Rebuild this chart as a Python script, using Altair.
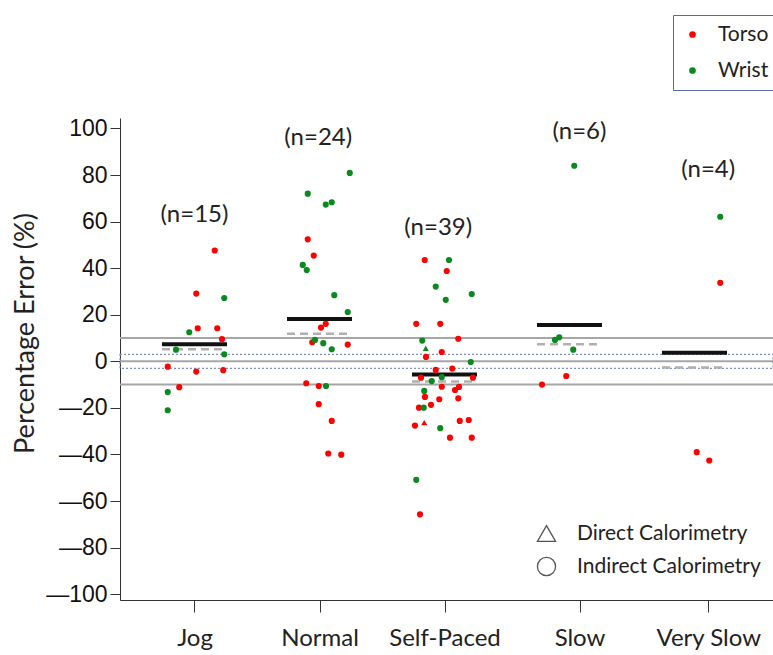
import altair as alt
import pandas as pd

# ---------------- data ----------------
categories = ["Jog", "Normal", "Self-Paced", "Slow", "Very Slow"]
group_pos = [1, 2, 3, 4, 5]
label_pos = [1.0, 2.0, 3.0, 4.08, 5.11]
n_text = ["(n=15)", "(n=24)", "(n=39)", "(n=6)", "(n=4)"]
n_text_pos = [1.0, 1.99, 2.95, 4.08, 5.11]
n_text_y = [62.9, 95.9, 57.3, 98.4, 82.2]
mean_err = [7.3, 18.2, -5.7, 15.6, 3.7]
median_err = [5.2, 11.8, -8.7, 7.3, -2.7]
ref_levels = [-10, 0, 10]
band_low, band_high = -3, 3

jog_err = [47.6, 29.1, 27.2, 12.5, 14.2, 14.2, 9.5, 5.0, 3.0, -2.3, -4.4, -3.8, -13.2, -11.1, -21.0]
jog_sensor = "TTWWTTTWWTTTWTW"
jog_jitter = [0.162, 0.014, 0.238, -0.042, 0.026, 0.182, 0.22, -0.148, 0.238, -0.214, 0.014, 0.230, -0.214, -0.122, -0.214]
jog_method = "I" * 15

normal_err = [80.9, 72.0, 67.3, 68.3, 52.4, 45.4, 41.4, 39.2, 28.4, 21.2, 16.1, 14.5, 8.2, 9.2, 7.8, 5.2, 7.2,
              -9.4, -10.6, -10.6, -18.4, -25.6, -39.6, -40.1]
normal_sensor = "WWWWTTWWWWTTTWWWTTTWTTTT"
normal_jitter = [0.242, -0.094, 0.050, 0.098, -0.094, -0.046, -0.134, -0.102, 0.118, 0.226, 0.050, 0.012, -0.058,
                 -0.036, 0.030, 0.098, 0.226, -0.106, -0.006, 0.052, -0.006, 0.098, 0.070, 0.174]
normal_method = "I" * 24

sp_err = [43.5, 43.5, 38.8, 32.1, 28.9, 26.4, 16.1, 16.1, 9.7, 8.9, 5.6, 4.0, 1.9, -0.3, -3.7, -3.1, -7.0, -6.8,
          -8.5, -7.0, -12.7, -10.9, -12.3, -11.0, -15.3, -16.3, -15.9, -18.7, -19.9, -19.9, -27.6, -26.3, -28.7,
          -25.6, -25.2, -32.8, -32.8, -50.9, -65.7]
sp_sensor = "TWTWWWTTTWWTTWTTTWWTWTTTTTTTTWTTWTTTTWT"
sp_jitter = [-0.158, 0.036, 0.018, -0.070, 0.218, 0.010, -0.226, -0.034, 0.110, -0.178, -0.150, -0.022, -0.148,
             0.210, -0.070, 0.062, -0.188, -0.022, -0.102, 0.228, -0.162, -0.022, 0.084, 0.116, -0.156, -0.042,
             0.110, -0.108, -0.204, -0.166, -0.236, -0.162, -0.034, 0.122, 0.194, 0.044, 0.218, -0.226, -0.196]
sp_method = "IIIIIIIIIIDIIIIIIIIIIIIIIIIIIIIDIIIIIII"

slow_err = [84.0, 9.2, 10.3, 5.0, -6.3, -10.0]
slow_sensor = "WWWWTT"
slow_jitter = [0.038, -0.116, -0.082, 0.030, -0.026, -0.220]
slow_method = "IIIIII"

vslow_err = [62.1, 33.7, -39.0, -42.6]
vslow_sensor = "WTTT"
vslow_jitter = [0.206, 0.206, 0.018, 0.118]
vslow_method = "IIII"

sensor_names = {"T": "Torso", "W": "Wrist"}
method_names = {"D": "Direct Calorimetry", "I": "Indirect Calorimetry"}

# ---------------- tables ----------------
groups = [
    (jog_err, jog_sensor, jog_jitter, jog_method),
    (normal_err, normal_sensor, normal_jitter, normal_method),
    (sp_err, sp_sensor, sp_jitter, sp_method),
    (slow_err, slow_sensor, slow_jitter, slow_method),
    (vslow_err, vslow_sensor, vslow_jitter, vslow_method),
]
rows = []
for gi, (errs, sens, jit, meth) in enumerate(groups):
    for e, s, j, m in zip(errs, sens, jit, meth):
        rows.append({"category": categories[gi], "x": group_pos[gi] + j, "err": e,
                     "sensor": sensor_names[s], "method": method_names[m]})
points_df = pd.DataFrame(rows)

HALF = 0.26
summary_df = pd.DataFrame({
    "category": categories,
    "x1": [p - HALF for p in group_pos],
    "x2": [p + HALF for p in group_pos],
    "mean": mean_err,
    "median": median_err,
})
ntext_df = pd.DataFrame({"x": n_text_pos, "y": n_text_y, "t": n_text})
ref_df = pd.DataFrame({"y": ref_levels})
band_df = pd.DataFrame({"y": [band_low], "y2": [band_high]})

# ---------------- scales/axes ----------------
xscale = alt.Scale(domain=[0.404, 5.628], nice=False, zero=False)
yscale = alt.Scale(domain=[-102.5, 104.5], nice=False, zero=False)

expr = ""
for i, c in enumerate(categories[:-1]):
    expr += f"datum.value < {group_pos[i] + 0.5} ? '{c}' : "
expr += f"'{categories[-1]}'"

x_axis = alt.Axis(values=label_pos, labelExpr=expr, grid=False, tickSize=12, labelPadding=14,
                  labelFontSize=24, labelFont="Lato", labelColor="#222", domainColor="#333",
                  tickColor="#333", title=None, labelFlush=False)
y_axis = alt.Axis(values=list(range(-100, 101, 20)), grid=False, tickSize=10, labelPadding=3,
                  labelFontSize=23, labelFont="Liberation Sans", labelColor="#111",
                  labelExpr="datum.value < 0 ? '\u2014' + abs(datum.value) : datum.value",
                  domainColor="#333", tickColor="#333",
                  title="Percentage Error (%)", titleFontSize=27, titleFont="Lato",
                  titleFontWeight="normal", titleColor="#222", titleX=-95, titleY=215,
                  titleAngle=270, titleAlign="center", titleBaseline="middle", titleLimit=400)

ref = alt.Chart(ref_df).mark_rule(color="#a6a6a6", strokeWidth=2).encode(
    y=alt.Y("y:Q", scale=yscale, axis=y_axis))

band = alt.Chart(band_df).mark_rect(fill="#ffffff", fillOpacity=0, stroke="#7f90c4",
                                    strokeWidth=1.2, strokeDash=[2, 2]).encode(
    y=alt.Y("y:Q", scale=yscale), y2="y2:Q")

median_rule = alt.Chart(summary_df).mark_rule(color="#b0b0b0", strokeWidth=2.5, strokeDash=[8, 5]).encode(
    x=alt.X("x1:Q", scale=xscale, axis=x_axis), x2="x2:Q", y=alt.Y("median:Q", scale=yscale))

mean_rule = alt.Chart(summary_df).mark_rule(color="#111111", strokeWidth=4).encode(
    x=alt.X("x1:Q", scale=xscale), x2="x2:Q", y=alt.Y("mean:Q", scale=yscale))

pts = alt.Chart(points_df).mark_point(filled=True, size=38, opacity=1).encode(
    x=alt.X("x:Q", scale=xscale),
    y=alt.Y("err:Q", scale=yscale),
    color=alt.Color("sensor:N",
                    scale=alt.Scale(domain=["Torso", "Wrist"], range=["#ff0000", "#0a8a1e"]),
                    legend=alt.Legend(title=None, orient="none", legendX=553, legendY=-103,
                                      padding=9, strokeColor="#5a6aa0", fillColor="#ffffff",
                                      symbolType="circle", symbolSize=45, labelFontSize=21,
                                      labelFont="Lato", labelColor="#222", rowPadding=14,
                                      labelOffset=15)),
    shape=alt.Shape("method:N",
                    scale=alt.Scale(domain=["Direct Calorimetry", "Indirect Calorimetry"],
                                    range=["triangle-up", "circle"]),
                    legend=alt.Legend(title=None, orient="none", legendX=416, legendY=405,
                                      symbolSize=330, symbolFillColor="#ffffff",
                                      symbolStrokeColor="#555555", symbolStrokeWidth=1.3,
                                      labelFontSize=21, labelFont="Lato", labelColor="#222",
                                      rowPadding=10, labelOffset=20, labelLimit=400)),
)

ntext = alt.Chart(ntext_df).mark_text(fontSize=24, font="Lato", color="#222").encode(
    x=alt.X("x:Q", scale=xscale), y=alt.Y("y:Q", scale=yscale), text="t:N")

chart = alt.layer(ref, band, median_rule, mean_rule, pts, ntext).properties(
    width=653, height=482,
    autosize=alt.AutoSizeParams(type="none"),
    padding={"left": 120, "top": 118, "right": 0, "bottom": 55},
    background="white",
).configure_view(stroke=None)

chart.save("out.html", embed_options={"renderer": "svg", "actions": False})
